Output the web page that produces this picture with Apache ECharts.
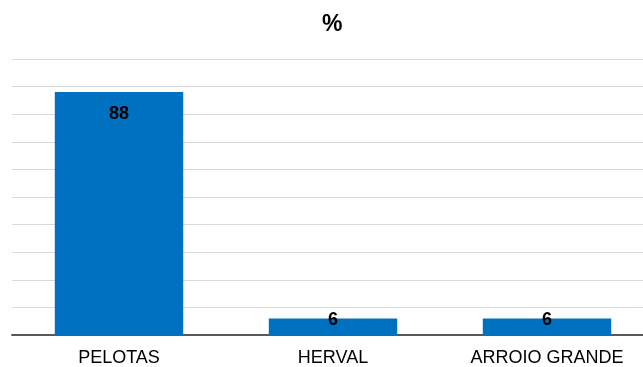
<!DOCTYPE html>
<html>
<head>
<meta charset="utf-8">
<script src="https://cdn.jsdelivr.net/npm/echarts@6/dist/echarts.min.js"></script>
<style>
  html, body { margin: 0; padding: 0; background: #fff; overflow: hidden; }
  /* the plot runs a little past the right edge of the page */
  #chart { width: 665px; height: 367px; }
</style>
</head>
<body>
<div id="chart"></div>
<script>
// Municipalities and their share (%)
const categories = ['PELOTAS', 'HERVAL', 'ARROIO GRANDE'];
const shares = [88, 6, 6];
const titleText = '%';

const FONT = '"Liberation Sans", Arial, sans-serif';

// Tall bars carry their label just inside the top; short bars straddle their top edge
const seriesData = shares.map(v => ({
  value: v,
  label: { position: 'insideTop', distance: v > 20 ? 13 : -7 }
}));

const chart = echarts.init(document.getElementById('chart'), null, { renderer: 'canvas' });
chart.setOption({
  animation: false,
  backgroundColor: '#ffffff',
  title: {
    text: titleText,
    left: 317,
    top: 8,
    textStyle: { fontFamily: FONT, fontSize: 23, fontWeight: 'bold', color: '#000' }
  },
  grid: { left: 12, top: 59, right: 11, height: 277, containLabel: false },
  xAxis: {
    type: 'category',
    data: categories,
    axisLine: { show: true, lineStyle: { color: '#595959', width: 2 } },
    axisTick: { show: false },
    axisLabel: { fontFamily: FONT, fontSize: 18, color: '#000', margin: 14 }
  },
  yAxis: {
    type: 'value',
    min: 0,
    max: 100,
    interval: 10,
    axisLine: { show: false },
    axisTick: { show: false },
    axisLabel: { show: false },
    splitLine: { show: true, lineStyle: { color: '#d9d9d9', width: 1 } }
  },
  series: [{
    type: 'bar',
    data: seriesData,
    barWidth: '60%',
    itemStyle: { color: '#0070C0' },
    label: {
      show: true,
      fontFamily: FONT,
      fontSize: 18,
      fontWeight: 'bold',
      color: '#000'
    }
  }]
});
</script>
</body>
</html>
